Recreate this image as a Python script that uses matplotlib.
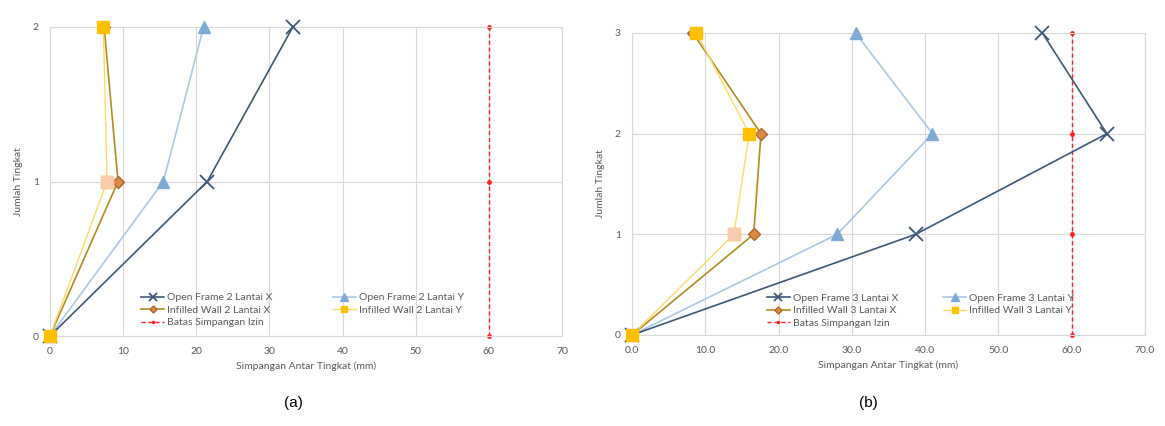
import matplotlib
matplotlib.use("Agg")
import matplotlib.pyplot as plt
from matplotlib.ticker import FormatStrFormatter

plt.rcParams['font.family'] = ['Lato', 'DejaVu Sans']

# ---- Data: (a) 2 lantai ----
levels_a = [0, 1, 2]
of_x_a = [0, 21.5, 33.2]
of_y_a = [0, 15.5, 21.0]
iw_x_a = [0, 9.3, 7.4]
iw_y_a = [0, 7.8, 7.3]
batas_a = [60, 60, 60]

# ---- Data: (b) 3 lantai ----
levels_b = [0, 1, 2, 3]
of_x_b = [0, 38.7, 64.8, 56.0]
of_y_b = [0, 28.0, 41.0, 30.5]
iw_x_b = [0, 16.6, 17.6, 8.3]
iw_y_b = [0, 13.9, 16.0, 8.8]
batas_b = [60, 60, 60, 60]

xticks = [0, 10, 20, 30, 40, 50, 60, 70]

C_OFX = '#3C5878'
C_OFY_L = '#A9C8E8'
C_OFY_M = '#7EAAD8'
C_IWX_L = '#B58A1E'
C_IWX_M = '#DA8A45'
C_IWY_L = '#FFD966'
C_IWY_M = '#FFC000'
C_IWY_M2 = '#F8CBAD'
C_RED = '#FF2020'
TXT = '#595959'
GRID = '#D9D9D9'

fig = plt.figure(figsize=(11.65, 4.26), dpi=100)
ax1 = fig.add_axes([50/1165, 1-336/426, 512/1165, 309/426])
ax2 = fig.add_axes([632/1165, 1-335/426, 513/1165, 302/426])


def draw(ax, lv, ofx, ofy, iwx, iwy, bt, n, fmt, leg_anchor, colsp):
    ax.plot(ofx, lv, color=C_OFX, lw=1.2, marker='x', ms=10, mew=1.3,
            label=f'Open Frame {n} Lantai X', zorder=4, clip_on=False)
    ax.plot(ofy, lv, color=C_OFY_L, lw=1.2, marker='^', ms=9,
            mfc=C_OFY_M, mec=C_OFY_M, label=f'Open Frame {n} Lantai Y', zorder=3, clip_on=False)
    ax.plot(iwx, lv, color=C_IWX_L, lw=1.2, marker='D', ms=6,
            mfc=C_IWX_M, mec='#B0652A', label=f'Infilled Wall {n} Lantai X', zorder=5, clip_on=False)
    ax.plot(iwy, lv, color=C_IWY_L, lw=1.0, marker='s', ms=8,
            mfc=C_IWY_M, mec=C_IWY_M, label=f'Infilled Wall {n} Lantai Y', zorder=6, clip_on=False)
    ax.plot(iwy[1:2], lv[1:2], ls='none', marker='s', ms=8,
            mfc=C_IWY_M2, mec=C_IWY_M2, zorder=7, clip_on=False)
    ax.plot(bt, lv, color=C_RED, lw=1.0, ls=(0, (3, 2)), marker='o', ms=2.5,
            label='Batas Simpangan Izin', zorder=2, clip_on=False)

    ax.set_xlim(0, 70)
    ax.set_ylim(0, lv[-1])
    ax.set_xticks(xticks)
    ax.set_yticks(lv)
    ax.xaxis.set_major_formatter(FormatStrFormatter(fmt))
    ax.grid(True, color=GRID, lw=0.8)
    ax.set_axisbelow(True)
    for s in ax.spines.values():
        s.set_color(GRID)
        s.set_linewidth(0.8)
    ax.tick_params(length=0, labelsize=7.5, colors=TXT, pad=8)
    ax.set_xlabel('Simpangan Antar Tingkat (mm)', fontsize=7.5, color=TXT, labelpad=4)
    ax.set_ylabel('Jumlah Tingkat', fontsize=7.5, color=TXT, labelpad=7)

    h, l = ax.get_legend_handles_labels()
    order = [0, 2, 4, 1, 3]
    leg = ax.legend([h[i] for i in order], [l[i] for i in order], ncol=2,
                    loc='lower left', bbox_to_anchor=leg_anchor, frameon=False,
                    fontsize=7.5, handlelength=2.2, handletextpad=0.3,
                    columnspacing=colsp, labelspacing=0.3, markerscale=0.6,
                    borderaxespad=0)
    for t in leg.get_texts():
        t.set_color(TXT)


draw(ax1, levels_a, of_x_a, of_y_a, iw_x_a, iw_y_a, batas_a, 2, '%d', (0.17, 0.015), 5.8)
draw(ax2, levels_b, of_x_b, of_y_b, iw_x_b, iw_y_b, batas_b, 3, '%.1f', (0.255, 0.01), 4.3)

fig.text(293/1165, 1-403/426, '(a)', fontsize=11, ha='center', va='center', family='Liberation Sans')
fig.text(868/1165, 1-403/426, '(b)', fontsize=11, ha='center', va='center', family='Liberation Sans')

fig.savefig('out.png', dpi=100, facecolor='white')
